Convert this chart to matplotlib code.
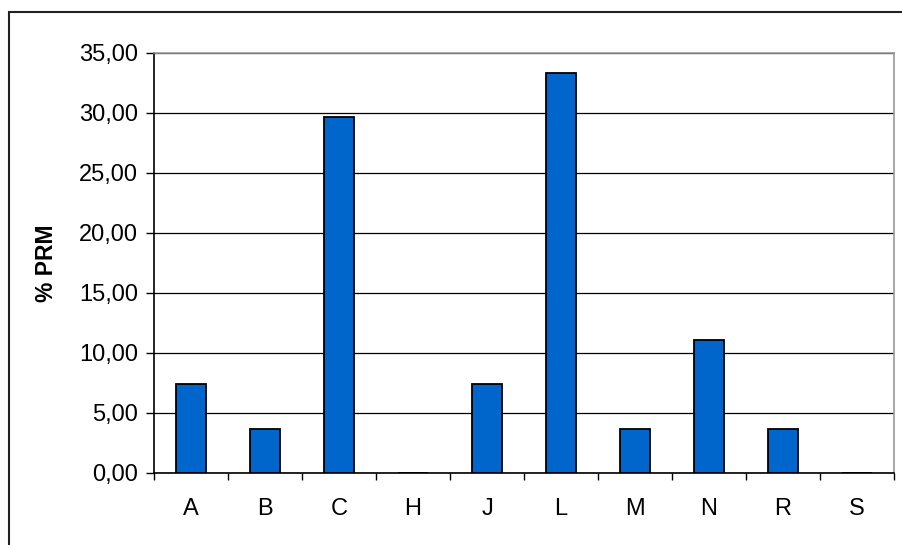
import numpy as np
import matplotlib.pyplot as plt
from matplotlib.ticker import FuncFormatter, FixedLocator
from matplotlib.patches import Rectangle

categories = ['A', 'B', 'C', 'H', 'J', 'L', 'M', 'N', 'R', 'S']
prm = [7.41, 3.70, 29.63, 0.00, 7.41, 33.33, 3.70, 11.11, 3.70, 0.00]

plt.rcParams['font.family'] = ['Liberation Sans', 'DejaVu Sans']

fig = plt.figure(figsize=(9.02, 5.45), dpi=100, facecolor='white')
ax = fig.add_axes([154 / 902, 1 - 473 / 545, 740 / 902, 420 / 545])

x = np.arange(len(categories))
ax.bar(x, prm, width=0.4, color='#0066CC', edgecolor='black', linewidth=1.3, zorder=3)

ax.set_xlim(-0.5, len(categories) - 0.5)
ax.set_ylim(0, 35)
ax.set_yticks(np.arange(0, 36, 5))
ax.yaxis.set_major_formatter(FuncFormatter(lambda v, p: f"{v:.2f}".replace('.', ',')))
ax.grid(axis='y', color='black', linewidth=0.9, zorder=0)

# ticks between categories, labels at the centers
ax.xaxis.set_major_locator(FixedLocator(np.arange(-0.5, len(categories), 1.0)))
ax.xaxis.set_major_formatter(FuncFormatter(lambda v, p: ''))
ax.xaxis.set_minor_locator(FixedLocator(x))
ax.set_xticklabels(categories, minor=True)
ax.tick_params(axis='x', which='major', direction='out', length=5, width=1, color='black')
ax.tick_params(axis='x', which='minor', length=0, pad=18, labelsize=17)
ax.tick_params(axis='y', direction='out', length=5.5, width=1, pad=6, labelsize=17)

ax.spines['left'].set_color('black')
ax.spines['bottom'].set_color('black')
ax.spines['top'].set_color('#999999')
ax.spines['right'].set_color('#999999')
for s in ax.spines.values():
    s.set_linewidth(1.2)

ax.set_ylabel('% PRM', fontsize=16.5, fontweight='bold')
ax.yaxis.set_label_coords((58 - 154) / 740, 0.5)

# outer chart frame
fig.patches.append(Rectangle((8.5 / 902, -0.1), 1.1, 1.1 - 12.5 / 545,
                             transform=fig.transFigure, fill=False,
                             edgecolor='#222222', linewidth=1.5))

fig.savefig('out.png', dpi=100, facecolor='white')
